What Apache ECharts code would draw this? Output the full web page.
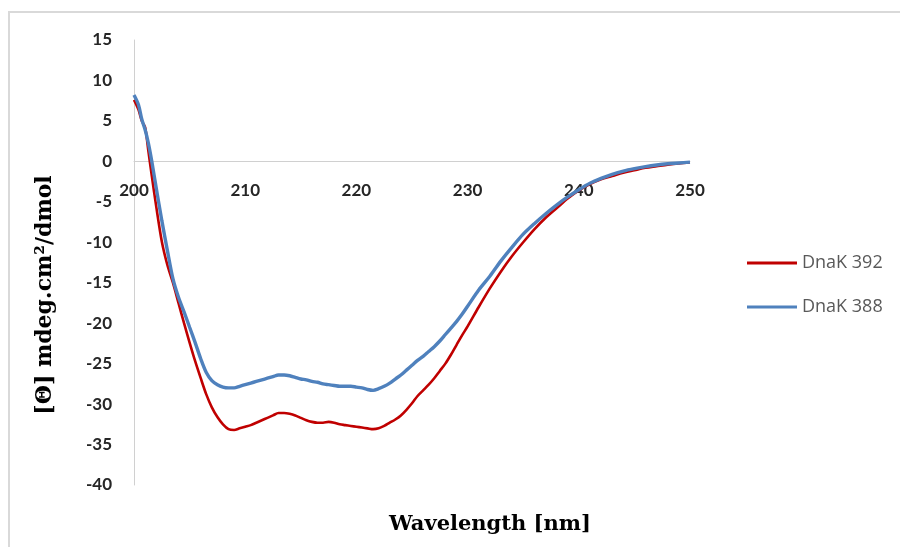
<!DOCTYPE html>
<html>
<head>
<meta charset="utf-8">
<script src="https://cdn.jsdelivr.net/npm/echarts@6/dist/echarts.min.js"></script>
<style>html,body{margin:0;padding:0;background:#fff}#c{width:900px;height:547px}</style>
</head>
<body>
<div id="c"></div>
<script>
const wavelength = [200, 200.4, 200.7, 201, 201.3, 201.6, 202, 202.5,
  203, 203.5, 204, 204.5, 205, 205.5, 206, 206.5, 207, 207.5, 208, 208.5, 209, 209.5,
  210, 210.5, 211, 211.5, 212, 212.5, 213, 213.5, 214, 214.5, 215, 215.5, 216, 216.5,
  217, 217.5, 218, 218.5, 219, 219.5, 220, 220.5, 221, 221.5, 222, 222.5, 223, 223.5,
  224, 224.5, 225, 225.5, 226, 226.5, 227, 227.5, 228, 228.5, 229, 229.5, 230,
  231, 232, 233, 234, 235, 236, 237, 238, 239, 240, 241, 242, 243, 244, 245, 246, 247, 248, 249, 250];

const dnak392 = [7.6, 6.4, 5.0, 4.2, 1.2, -1.8, -5.6, -9.9,
  -12.8, -15.0, -17.5, -20.0, -22.4, -24.7, -26.8, -28.8, -30.4, -31.6, -32.5, -33.1, -33.2, -33.0,
  -32.8, -32.6, -32.3, -32.0, -31.7, -31.4, -31.1, -31.1, -31.2, -31.4, -31.7, -32.0, -32.2, -32.3,
  -32.3, -32.2, -32.3, -32.5, -32.6, -32.7, -32.8, -32.9, -33.0, -33.1, -33.0, -32.7, -32.3, -31.9,
  -31.4, -30.7, -29.9, -29.0, -28.3, -27.6, -26.8, -25.9, -25.0, -23.9, -22.7, -21.5, -20.4,
  -18.0, -15.7, -13.6, -11.7, -10.0, -8.4, -7.0, -5.8, -4.6, -3.6, -2.8, -2.2, -1.8, -1.4, -1.1, -0.8, -0.6, -0.4, -0.25, -0.15];

const dnak388 = [8.2, 7.0, 5.2, 3.9, 2.2, 0.0, -3.3, -7.3,
  -11.0, -14.5, -16.8, -18.6, -20.5, -22.4, -24.4, -26.1, -27.1, -27.6, -27.9, -28.0, -28.0, -27.8,
  -27.6, -27.4, -27.2, -27.0, -26.8, -26.6, -26.4, -26.4, -26.5, -26.7, -26.9, -27.0, -27.2, -27.3,
  -27.5, -27.6, -27.7, -27.8, -27.8, -27.8, -27.9, -28.0, -28.2, -28.3, -28.1, -27.8, -27.4, -26.9,
  -26.4, -25.8, -25.2, -24.6, -24.1, -23.5, -22.9, -22.2, -21.4, -20.6, -19.8, -18.9, -17.9,
  -15.9, -14.2, -12.3, -10.6, -9.0, -7.7, -6.5, -5.4, -4.4, -3.5, -2.7, -2.1, -1.6, -1.2, -0.9, -0.65, -0.45, -0.3, -0.2, -0.1];

const seriesNames = ['DnaK 392', 'DnaK 388'];
const xTitle = 'Wavelength [nm]';
const yTitle = '[Θ] mdeg.cm²/dmol';

const chart = echarts.init(document.getElementById('c'), null, {renderer: 'canvas'});
const pairs = vals => wavelength.map((w, i) => [w, vals[i]]);
const labelFont = {fontFamily: 'Lato', fontWeight: 'bold', fontSize: 17, color: '#262626'};

chart.setOption({
  animation: false,
  backgroundColor: '#ffffff',
  grid: {left: 134, top: 40, width: 556, height: 445, containLabel: false},
  xAxis: {
    type: 'value', min: 200, max: 250, interval: 10,
    offset: -324,
    axisLine: {onZero: false, lineStyle: {color: '#d0d0d0', width: 1}},
    axisTick: {show: false},
    splitLine: {show: false},
    axisLabel: Object.assign({margin: 21}, labelFont)
  },
  yAxis: {
    type: 'value', min: -40, max: 15, interval: 5,
    axisLine: {show: true, onZero: false, lineStyle: {color: '#d0d0d0', width: 1}},
    axisTick: {show: false},
    splitLine: {show: false},
    axisLabel: Object.assign({margin: 22}, labelFont)
  },
  legend: {
    orient: 'vertical', left: 747, top: 254, itemGap: 26, padding: 0,
    icon: 'rect', itemWidth: 50, itemHeight: 3,
    textStyle: {fontFamily: 'Open Sans', fontSize: 18, color: '#595959'},
    data: seriesNames
  },
  series: [
    {name: seriesNames[0], type: 'line', data: pairs(dnak392), showSymbol: false, symbol: 'none', smooth: 0.3,
      lineStyle: {color: '#C00000', width: 2.6}, itemStyle: {color: '#C00000'}},
    {name: seriesNames[1], type: 'line', data: pairs(dnak388), showSymbol: false, symbol: 'none', smooth: 0.3,
      lineStyle: {color: '#4F81BD', width: 3.4}, itemStyle: {color: '#4F81BD'}}
  ],
  graphic: [
    {type: 'rect', shape: {x: 9, y: 12, width: 1000, height: 700}, style: {fill: null, stroke: '#d9d9d9', lineWidth: 2}, silent: true},
    {type: 'text', x: 45, y: 295, rotation: Math.PI / 2,
      style: {text: yTitle, font: 'bold 22px "DejaVu Serif"', fill: '#000', align: 'center', verticalAlign: 'middle'}},
    {type: 'text', x: 490, y: 525,
      style: {text: xTitle, font: 'bold 21px "DejaVu Serif"', fill: '#000', align: 'center', verticalAlign: 'middle'}}
  ]
});
</script>
</body>
</html>
